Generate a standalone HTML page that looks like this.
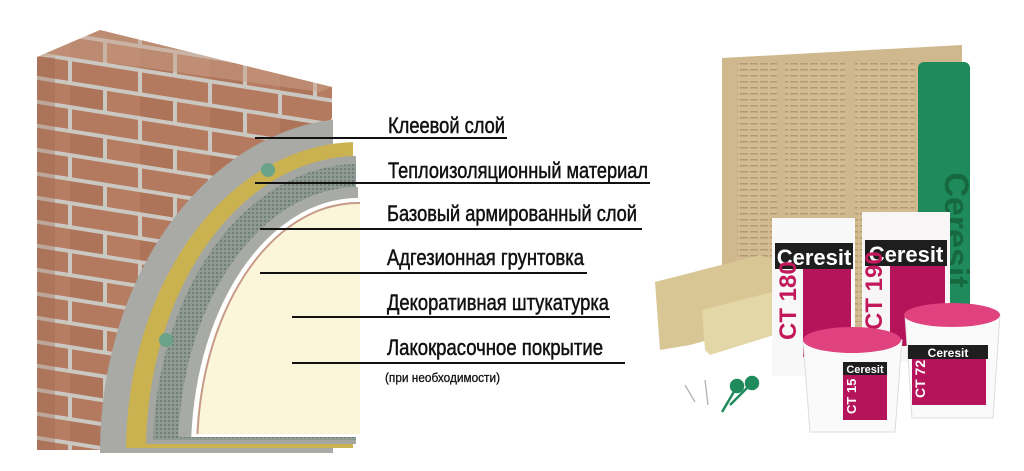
<!DOCTYPE html>
<html><head><meta charset="utf-8"><style>
html,body{margin:0;padding:0;background:#fff;width:1024px;height:471px;overflow:hidden}
svg{display:block}
</style></head><body>
<svg width="1024" height="471" viewBox="0 0 1024 471" xmlns="http://www.w3.org/2000/svg" style="position:absolute;left:0;top:0">
<defs>
<pattern id="brick" x="0" y="0" width="70" height="48" patternUnits="userSpaceOnUse" patternTransform="skewY(9)">
<rect width="70" height="48" fill="#cbc8c2"/>
<rect x="2" y="2" width="66" height="20" fill="#b37a5f"/>
<rect x="-33" y="26" width="66" height="20" fill="#ae7459"/>
<rect x="37" y="26" width="66" height="20" fill="#b67d62"/>
</pattern>
<pattern id="mesh" width="4" height="4" patternUnits="userSpaceOnUse">
<rect width="4" height="4" fill="#8f9a92"/><rect width="2" height="2" fill="#6f7e76"/>
</pattern>
<pattern id="wool" width="10" height="6" patternUnits="userSpaceOnUse">
<rect width="10" height="6" fill="#d2bb90"/><rect y="3" width="8" height="1.5" fill="#b49a70"/>
</pattern>
<clipPath id="c1"><rect x="0" y="0" width="333" height="453"/></clipPath>
<clipPath id="c2"><rect x="0" y="0" width="353" height="448"/></clipPath>
<clipPath id="c3"><rect x="0" y="0" width="356" height="444"/></clipPath>
<clipPath id="c4"><rect x="0" y="0" width="356" height="440"/></clipPath>
<clipPath id="c5"><rect x="0" y="0" width="358" height="437"/></clipPath>
<clipPath id="c6"><rect x="0" y="0" width="360" height="434"/></clipPath>
</defs>
<rect width="1024" height="471" fill="#fff"/>
<polygon points="37,57 100,30 332,87 332,118 120,450 37,450" fill="url(#brick)"/>
<polygon points="37,57 100,30 332,87 320,92 60,56" fill="#c8a088" opacity="0.5"/>
<rect x="37" y="57" width="18" height="393" fill="#9e6a52" opacity="0.35"/>
<ellipse cx="358" cy="452" rx="258" ry="334" fill="#a9a9a6" clip-path="url(#c1)"/>
<ellipse cx="358" cy="452" rx="232" ry="310" fill="#c9b24f" clip-path="url(#c2)"/>
<ellipse cx="358" cy="452" rx="212" ry="296" fill="#a4a6a2" clip-path="url(#c3)"/>
<ellipse cx="358" cy="452" rx="205" ry="288" fill="url(#mesh)" clip-path="url(#c4)"/>
<ellipse cx="358" cy="452" rx="180" ry="265" fill="#a8aaa6" clip-path="url(#c5)"/>
<ellipse cx="358" cy="452" rx="167" ry="254" fill="#ffffff" clip-path="url(#c5)"/>
<ellipse cx="358" cy="452" rx="162" ry="250" fill="#c79a88" clip-path="url(#c6)"/>
<ellipse cx="358" cy="452" rx="160" ry="248" fill="#fbf6d9" clip-path="url(#c6)"/>
<circle cx="268" cy="170" r="7" fill="#6aa38a"/>
<circle cx="166" cy="340" r="7" fill="#6aa38a"/>
<g stroke="#111" stroke-width="2">
<line x1="255" y1="138" x2="507" y2="138"/>
<line x1="255" y1="183" x2="650" y2="183"/>
<line x1="260" y1="229" x2="642" y2="229"/>
<line x1="260" y1="273" x2="587" y2="273"/>
<line x1="292" y1="317" x2="610" y2="317"/>
<line x1="292" y1="363" x2="625" y2="363"/>
</g>
<g font-family="Liberation Sans, sans-serif" font-size="22" fill="#111" stroke="#111" stroke-width="0.5">
<text x="388" y="133" textLength="117" lengthAdjust="spacingAndGlyphs">Клеевой слой</text>
<text x="388" y="178" textLength="260" lengthAdjust="spacingAndGlyphs">Теплоизоляционный материал</text>
<text x="387" y="221" textLength="250" lengthAdjust="spacingAndGlyphs">Базовый армированный слой</text>
<text x="387" y="265" textLength="197" lengthAdjust="spacingAndGlyphs">Адгезионная грунтовка</text>
<text x="387" y="310" textLength="222" lengthAdjust="spacingAndGlyphs">Декоративная штукатурка</text>
<text x="387" y="355" textLength="216" lengthAdjust="spacingAndGlyphs">Лакокрасочное покрытие</text>
<text x="385" y="382" font-size="13" stroke-width="0.3" textLength="115" lengthAdjust="spacingAndGlyphs">(при необходимости)</text>
</g>
<polygon points="722,58 962,45 962,330 722,330" fill="#cfb88e"/>
<rect x="737" y="62" width="40" height="260" fill="url(#wool)"/>
<rect x="785" y="62" width="60" height="260" fill="url(#wool)"/>
<rect x="855" y="62" width="60" height="260" fill="url(#wool)"/>
<rect x="918" y="62" width="52" height="250" rx="6" fill="#1f8a5c"/>
<text x="945" y="230" font-family="Liberation Sans, sans-serif" font-weight="bold" font-size="34" fill="#16683f" transform="rotate(90 945 230)" text-anchor="middle">Ceresit</text>
<polygon points="655,282 760,255 780,262 780,320 690,345 660,350" fill="#d8c794"/>
<polygon points="702,310 780,290 790,330 710,355 705,350" fill="#e3d6a7"/>
<rect x="862" y="212" width="88" height="150" fill="#f7f5f5"/>
<rect x="865" y="240" width="82" height="26" fill="#1e1e1e"/>
<text x="906" y="262" font-family="Liberation Sans, sans-serif" font-weight="bold" font-size="22" fill="#fff" text-anchor="middle">Ceresit</text>
<rect x="890" y="266" width="55" height="80" fill="#b5145a"/>
<text x="882" y="330" font-family="Liberation Sans, sans-serif" font-weight="bold" font-size="24" fill="#c2185b" transform="rotate(-90 882 330)">CT 190</text>
<rect x="772" y="218" width="83" height="158" fill="#f9f8f8"/>
<rect x="775" y="243" width="78" height="26" fill="#1e1e1e"/>
<text x="814" y="265" font-family="Liberation Sans, sans-serif" font-weight="bold" font-size="22" fill="#fff" text-anchor="middle">Ceresit</text>
<rect x="803" y="269" width="48" height="88" fill="#b5145a"/>
<text x="796" y="340" font-family="Liberation Sans, sans-serif" font-weight="bold" font-size="24" fill="#c2185b" transform="rotate(-90 796 340)">CT 180</text>
<path d="M905,315 L1000,315 L993,418 L912,418 Z" fill="#fbfafa" stroke="#ddd"/>
<ellipse cx="952" cy="315" rx="48" ry="12" fill="#e0417f"/>
<rect x="908" y="345" width="80" height="14" fill="#1e1e1e"/>
<text x="948" y="357" font-family="Liberation Sans, sans-serif" font-weight="bold" font-size="12" fill="#fff" text-anchor="middle">Ceresit</text>
<rect x="912" y="359" width="74" height="46" fill="#b5145a"/>
<text x="925" y="398" font-family="Liberation Sans, sans-serif" font-weight="bold" font-size="14" fill="#fff" transform="rotate(-90 925 398)">CT 72</text>
<path d="M803,340 L902,340 L895,432 L810,432 Z" fill="#fbfafa" stroke="#ddd"/>
<ellipse cx="852" cy="340" rx="49" ry="13" fill="#e0417f"/>
<rect x="843" y="362" width="44" height="13" fill="#1e1e1e"/>
<text x="865" y="373" font-family="Liberation Sans, sans-serif" font-weight="bold" font-size="11" fill="#fff" text-anchor="middle">Ceresit</text>
<rect x="843" y="375" width="44" height="45" fill="#b5145a"/>
<text x="856" y="414" font-family="Liberation Sans, sans-serif" font-weight="bold" font-size="13" fill="#fff" transform="rotate(-90 856 414)">CT 15</text>
<g stroke="#1f8a5c" stroke-width="2.5" fill="#1f8a5c">
<line x1="722" y1="412" x2="735" y2="390"/><circle cx="737" cy="386" r="6"/>
<line x1="730" y1="405" x2="750" y2="385"/><circle cx="752" cy="383" r="6"/>
</g>
<g stroke="#bbb" stroke-width="1.5"><line x1="685" y1="385" x2="695" y2="402"/><line x1="705" y1="380" x2="708" y2="405"/></g>
</svg>
</body></html>
